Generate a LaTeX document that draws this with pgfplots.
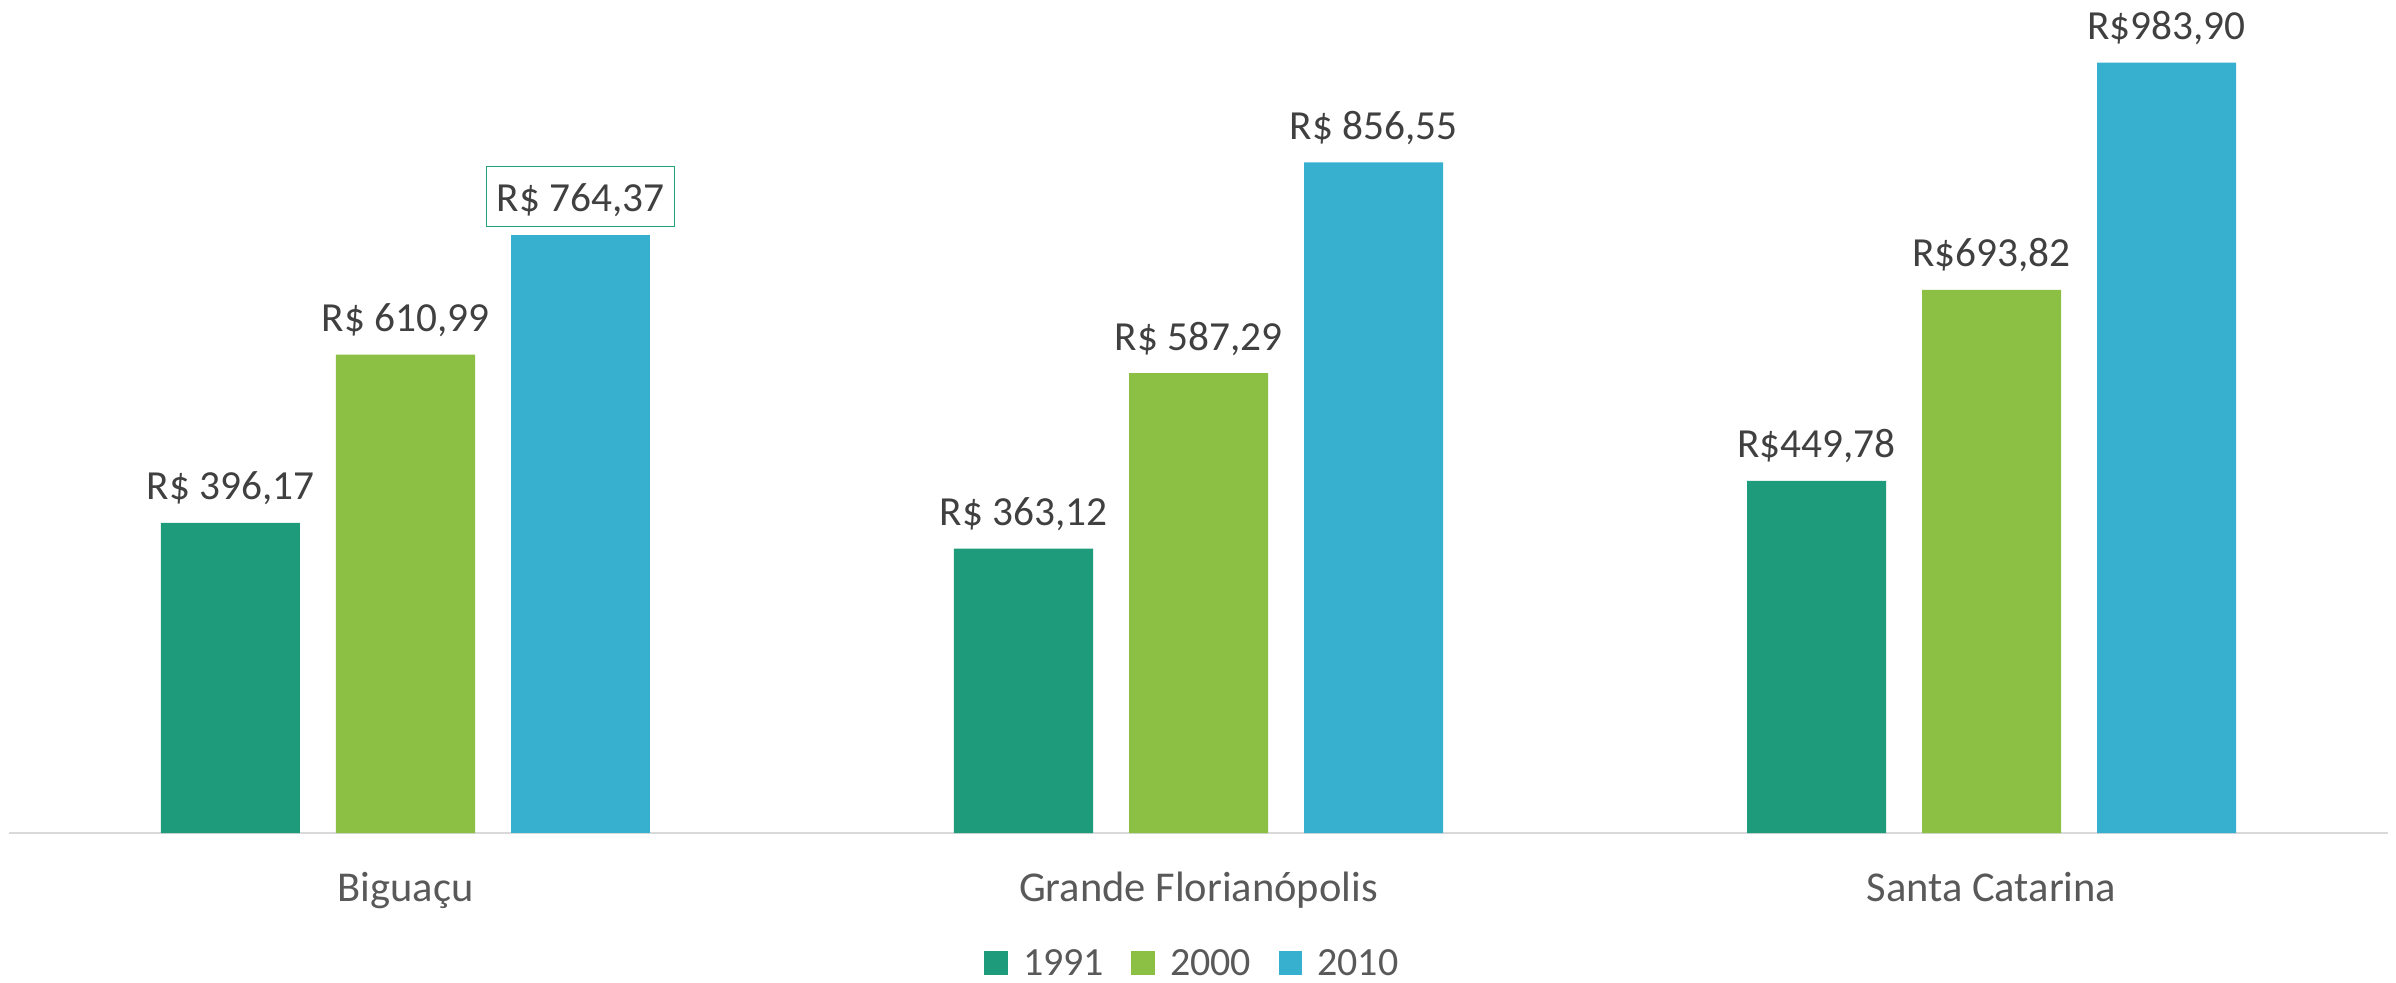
\documentclass[border=0pt]{standalone}
\usepackage{pgfplots}
\pgfplotsset{compat=1.18}
\usepackage{fontspec}
\setmainfont{Carlito}
\definecolor{cA}{HTML}{1E9B7A}
\definecolor{cB}{HTML}{8BC045}
\definecolor{cC}{HTML}{37AFCF}
\definecolor{lbl}{HTML}{404040}
\definecolor{cat}{HTML}{595959}
\definecolor{axc}{HTML}{D9D9D9}
\definecolor{boxg}{HTML}{24A07C}
\begin{document}
\begin{tikzpicture}
\useasboundingbox (-2.7pt,-44.7pt) rectangle (716.1pt,249.9pt);
\begin{axis}[
 at={(0pt,0pt)}, anchor=south west,
 scale only axis, width=713.7pt, height=249.9pt,
 xmin=-0.5, xmax=2.5, ymin=0, ymax=1063.9,
 axis y line=none, axis x line*=bottom,
 axis line style={draw=axc, line width=0.6pt, -},
 xtick={0,1,2}, xticklabels={Biguaçu, Grande Florianópolis, Santa Catarina},
 major tick length=0pt, xtick style={draw=none},
 xticklabel style={font=\fontsize{12.75}{15}\selectfont, text=cat, anchor=base, yshift=-20.6pt},
 ytick=\empty,
 ybar, bar width=0.1753,
 point meta=explicit symbolic,
 nodes near coords,
 every node near coord/.append style={font=\fontsize{12.4}{14}\selectfont, text=lbl, anchor=base, yshift=6.9pt, inner sep=0pt},
 clip=false,
 legend columns=3,
 legend style={draw=none, fill=none, at={(0.497,-0.156)}, anchor=center,
   font=\fontsize{12}{14}\selectfont, text=cat,
   nodes={inner sep=0pt, text depth=0pt},
   /tikz/every odd column/.append style={column sep=4.6pt},
   /tikz/every even column/.append style={column sep=8.2pt}},
 legend image code/.code={\fill[#1] (0pt,-3.6pt) rectangle (7pt,3.6pt);},
]
\addplot[fill=cA, draw=none, bar shift=-0.2207] coordinates {(0,396.17)[R\$ 396,17] (1,363.12)[R\$ 363,12] (2,449.78)[R\$449,78]};
\addplot[fill=cB, draw=none, bar shift=0] coordinates {(0,610.99)[R\$ 610,99] (1,587.29)[R\$ 587,29] (2,693.82)[R\$693,82]};
\addplot[fill=cC, draw=none, bar shift=0.2207] coordinates {(1,856.55)[R\$ 856,55] (2,983.90)[R\$983,90]};
\addplot[fill=cC, draw=none, bar shift=0.2207, forget plot,
  every node near coord/.append style={draw=boxg, line width=0.5pt, inner xsep=3pt, inner ysep=0pt, text height=13.5pt, text depth=4.5pt}]
  coordinates {(0,764.37)[R\$ 764,37]};
\legend{1991,2000,2010}
\end{axis}
\end{tikzpicture}
\end{document}
